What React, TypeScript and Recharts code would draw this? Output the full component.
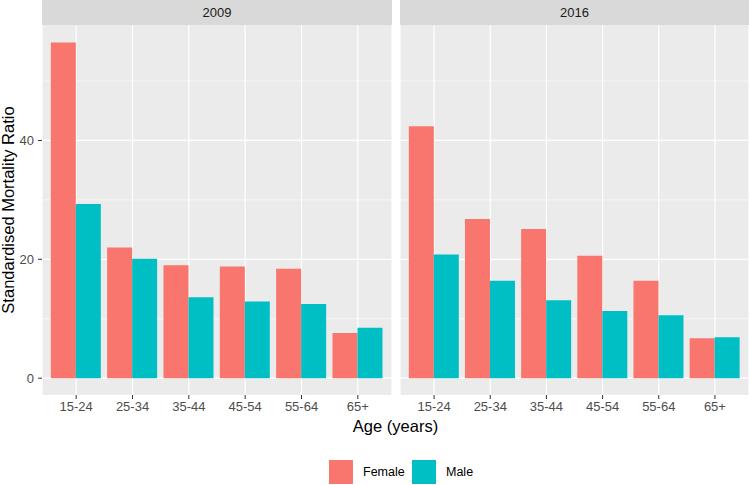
import React from 'react';
import { BarChart, Bar, XAxis, YAxis, CartesianGrid } from 'recharts';

const ageGroups = ['15-24', '25-34', '35-44', '45-54', '55-64', '65+'];
const female2009 = [56.5, 22.0, 19.0, 18.8, 18.4, 7.6];
const male2009 = [29.3, 20.1, 13.6, 12.9, 12.5, 8.5];
const female2016 = [42.4, 26.8, 25.1, 20.6, 16.4, 6.7];
const male2016 = [20.8, 16.4, 13.1, 11.3, 10.6, 6.9];
const yTicks = [0, 20, 40];
const yMinor = [10, 30, 50];

const FONT = '"Liberation Sans", Arial, Helvetica, sans-serif';
const FEMALE = '#F8766D';
const MALE = '#00BFC4';
const Y_DOMAIN: [number, number] = [-2.83, 59.43];

interface PanelProps {
  title: string;
  female: number[];
  male: number[];
  showYAxis: boolean;
  left: number;
  width: number;
}

const Panel: React.FC<PanelProps> = ({ title, female, male, showYAxis, left, width }) => {
  const data = ageGroups.map((age, i) => ({ age, Female: female[i], Male: male[i] }));
  const axisW = showYAxis ? 42 : 0;

  return (
    <>
      <div
        style={{
          position: 'absolute',
          left: left + axisW,
          top: 0,
          width: width - axisW,
          height: 25,
          background: '#D9D9D9',
          color: '#1A1A1A',
          fontSize: 13,
          lineHeight: '25px',
          textAlign: 'center',
        }}
      >
        {title}
      </div>
      <div style={{ position: 'absolute', left, top: 25 }}>
        <BarChart
          width={width}
          height={395}
          data={data}
          margin={{ top: 0, right: 0, bottom: 0, left: 0 }}
          barCategoryGap="5%"
          barGap={0}
        >
          <CartesianGrid
            fill="#EBEBEB"
            stroke="#FFFFFF"
            strokeWidth={0.6}
            vertical={false}
            horizontalValues={yMinor}
          />
          <CartesianGrid
            stroke="#FFFFFF"
            strokeWidth={1.2}
            horizontalValues={yTicks}
          />
          <XAxis
            dataKey="age"
            height={25}
            padding={{ left: 6, right: 6 }}
            axisLine={false}
            tickSize={4}
            tickMargin={3}
            tickLine={{ stroke: '#333333' }}
            tick={{ fill: '#4D4D4D', fontSize: 13, fontFamily: FONT }}
            interval={0}
          />
          <YAxis
            hide={!showYAxis}
            width={42}
            type="number"
            domain={Y_DOMAIN}
            allowDataOverflow
            ticks={yTicks}
            axisLine={false}
            tickSize={4}
            tickMargin={4}
            tickLine={{ stroke: '#333333' }}
            tick={{ fill: '#4D4D4D', fontSize: 13, fontFamily: FONT }}
          />
          <Bar dataKey="Female" fill={FEMALE} isAnimationActive={false} />
          <Bar dataKey="Male" fill={MALE} isAnimationActive={false} />
        </BarChart>
      </div>
    </>
  );
};

export default function App() {
  return (
    <div
      style={{
        position: 'absolute',
        left: 0,
        top: 0,
        width: 749,
        height: 485,
        background: '#FFFFFF',
        fontFamily: FONT,
        overflow: 'hidden',
      }}
    >
      <Panel title="2009" female={female2009} male={male2009} showYAxis left={0} width={392} />
      <Panel title="2016" female={female2016} male={male2016} showYAxis={false} left={400} width={349} />

      {/* axis titles */}
      <div
        style={{
          position: 'absolute',
          left: 7.6 - 150,
          top: 210 - 10,
          width: 300,
          height: 20,
          lineHeight: '20px',
          textAlign: 'center',
          fontSize: 16.5,
          color: '#000000',
          transform: 'rotate(-90deg)',
        }}
      >
        Standardised Mortality Ratio
      </div>

      <div
        style={{
          position: 'absolute',
          left: 42,
          top: 416,
          width: 707,
          height: 20,
          lineHeight: '20px',
          textAlign: 'center',
          fontSize: 16.5,
          color: '#000000',
        }}
      >
        Age (years)
      </div>

      {/* legend */}
      <div
        style={{
          position: 'absolute',
          left: 329,
          top: 460,
          display: 'flex',
          alignItems: 'center',
          fontSize: 12.5,
          color: '#000000',
        }}
      >
        <div style={{ width: 24, height: 24, background: FEMALE }} />
        <span style={{ marginLeft: 10, width: 49 }}>Female</span>
        <div style={{ width: 24, height: 24, background: MALE }} />
        <span style={{ marginLeft: 10 }}>Male</span>
      </div>
    </div>
  );
}
